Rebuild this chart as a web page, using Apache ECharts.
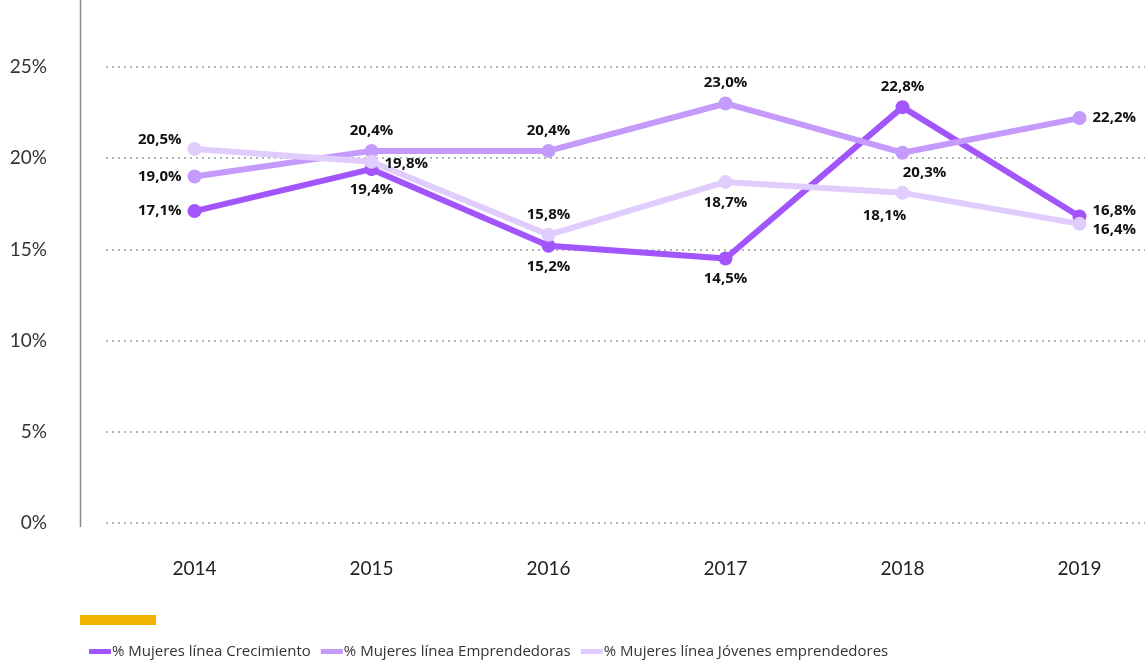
<!DOCTYPE html>
<html>
<head>
<meta charset="utf-8">
<script src="https://cdn.jsdelivr.net/npm/echarts@6/dist/echarts.min.js"></script>
<style>html,body{margin:0;padding:0;background:#fff;}#c{width:1145px;height:661px;}</style>
</head>
<body>
<div id="c"></div>
<script>
var years = ['2014','2015','2016','2017','2018','2019'];
var crecimiento = [17.1, 19.4, 15.2, 14.5, 22.8, 16.8];
var emprendedoras = [19.0, 20.4, 20.4, 23.0, 20.3, 22.2];
var jovenes = [20.5, 19.8, 15.8, 18.7, 18.1, 16.4];
var seriesNames = ['% Mujeres línea Crecimiento', '% Mujeres línea Emprendedoras', '% Mujeres línea Jóvenes emprendedores'];
var yTicks = [0, 5, 10, 15, 20, 25];

var colors = ['#a155fb', '#c49afc', '#e0cdfd'];
var labelPos = [
  ['left','bottom','bottom','bottom','top','right'],
  ['left','top','top','top','bottom','right'],
  ['left','right','top','bottom','bottom','right']
];
var labelOff = [
  [[0,0],[0,0],[0,0],[0,0],[0,0],[0,-6]],
  [[0,0],[0,0],[0,0],[0,0],[22,0],[0,0]],
  [[0,-9],[0,2],[0,0],[0,0],[-18,2],[0,6]]
];
function fmt(v){ return v.toFixed(1).replace('.', ',') + '%'; }
function build(vals, idx){
  return vals.map(function(v,i){
    return {value:v, label:{position:labelPos[idx][i], offset:labelOff[idx][i]}};
  });
}
var allData = [crecimiento, emprendedoras, jovenes];
var series = [0,1,2].map(function(idx){
  return {
    name: seriesNames[idx], type:'line', data: build(allData[idx], idx),
    z: 2 + idx,
    symbol:'circle', symbolSize:14, lineStyle:{width:6, color:colors[idx]},
    itemStyle:{color:colors[idx]},
    label:{show:true, distance:6, formatter:function(p){return fmt(p.value);},
      fontFamily:'Open Sans', fontWeight:'bold', fontSize:15, color:'#111'}
  };
});
var chart = echarts.init(document.getElementById('c'));
chart.setOption({
  animation:false,
  color: colors,
  grid:{left:106, right:-23, top:67, bottom:138, containLabel:false, outerBoundsMode:'none'},
  legend:{
    data: seriesNames, left:84, top:639, icon:'rect', itemWidth:22, itemHeight:5, itemGap:10,
    textStyle:{fontFamily:'Open Sans', fontSize:15, color:'#333', padding:[0,0,0,-4]}
  },
  xAxis:{type:'category', data:years, boundaryGap:true,
    axisLine:{show:false}, axisTick:{show:false},
    axisLabel:{margin:36, fontFamily:'Lato', fontSize:19, color:'#222'}},
  yAxis:{type:'value', min:yTicks[0], max:yTicks[yTicks.length-1], interval:5,
    axisLine:{show:false}, axisTick:{show:false},
    axisLabel:{margin:59, fontFamily:'Lato', fontSize:19, color:'#333', formatter:'{value}%'},
    splitLine:{show:true, lineStyle:{type:[2,4], width:2, color:'#b5b5b5'}}},
  graphic:[
    {type:'line', shape:{x1:80.5, y1:0, x2:80.5, y2:527}, style:{stroke:'#888', lineWidth:1.5}},
    {type:'rect', shape:{x:80, y:615, width:76, height:10}, style:{fill:'#efb300'}}
  ],
  series: series
});
</script>
</body>
</html>
